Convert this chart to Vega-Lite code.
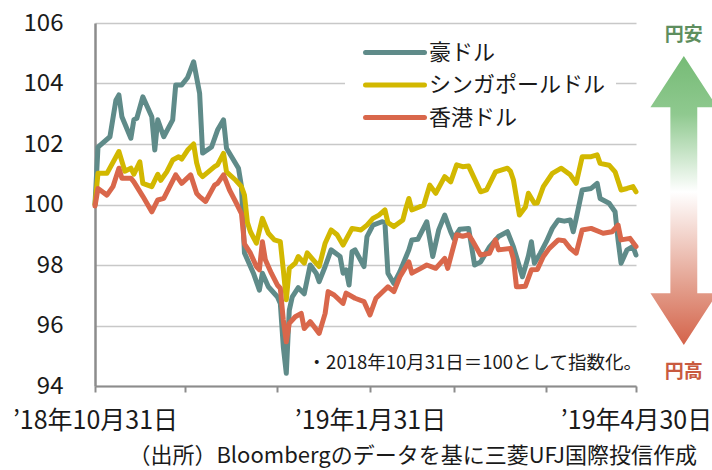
{
"$schema":"https://vega.github.io/schema/vega-lite/v6.json",
"width":541,"height":363,
"autosize":{"type":"none"},
"padding":{"left":95,"top":23,"right":76,"bottom":84},
"background":"white",
"config":{"view":{"stroke":null},"font":"Noto Sans CJK JP"},
"title":{"text":"（出所）Bloombergのデータを基に三菱UFJ国際投信作成","orient":"bottom","anchor":"end","frame":"group","fontSize":22,"fontWeight":"normal","color":"#1a1a1a","font":"Noto Sans CJK JP","offset":13,"dx":61},
"datasets":{
"series":[
{"d":"2018/10/31","s":"豪ドル","v":100.0},{"d":"2018/11/01","s":"豪ドル","v":101.9},{"d":"2018/11/05","s":"豪ドル","v":102.24},{"d":"2018/11/07","s":"豪ドル","v":103.45},{"d":"2018/11/08","s":"豪ドル","v":103.62},{"d":"2018/11/09","s":"豪ドル","v":102.9},{"d":"2018/11/12","s":"豪ドル","v":102.19},{"d":"2018/11/13","s":"豪ドル","v":102.8},{"d":"2018/11/14","s":"豪ドル","v":102.85},{"d":"2018/11/16","s":"豪ドル","v":103.56},{"d":"2018/11/19","s":"豪ドル","v":102.9},{"d":"2018/11/20","s":"豪ドル","v":101.8},{"d":"2018/11/21","s":"豪ドル","v":102.8},{"d":"2018/11/23","s":"豪ドル","v":102.24},{"d":"2018/11/26","s":"豪ドル","v":102.8},{"d":"2018/11/27","s":"豪ドル","v":103.95},{"d":"2018/11/29","s":"豪ドル","v":103.95},{"d":"2018/12/01","s":"豪ドル","v":104.2},{"d":"2018/12/03","s":"豪ドル","v":104.72},{"d":"2018/12/05","s":"豪ドル","v":103.68},{"d":"2018/12/06","s":"豪ドル","v":101.7},{"d":"2018/12/09","s":"豪ドル","v":101.9},{"d":"2018/12/11","s":"豪ドル","v":102.46},{"d":"2018/12/13","s":"豪ドル","v":102.8},{"d":"2018/12/14","s":"豪ドル","v":101.86},{"d":"2018/12/16","s":"豪ドル","v":101.53},{"d":"2018/12/18","s":"豪ドル","v":101.2},{"d":"2018/12/19","s":"豪ドル","v":100.6},{"d":"2018/12/20","s":"豪ドル","v":98.4},{"d":"2018/12/23","s":"豪ドル","v":97.73},{"d":"2018/12/25","s":"豪ドル","v":97.17},{"d":"2018/12/26","s":"豪ドル","v":97.73},{"d":"2018/12/28","s":"豪ドル","v":97.28},{"d":"2018/12/31","s":"豪ドル","v":96.95},{"d":"2019/01/01","s":"豪ドル","v":96.73},{"d":"2019/01/02","s":"豪ドル","v":95.3},{"d":"2019/01/03","s":"豪ドル","v":94.42},{"d":"2019/01/04","s":"豪ドル","v":96.5},{"d":"2019/01/05","s":"豪ドル","v":96.95},{"d":"2019/01/07","s":"豪ドル","v":97.25},{"d":"2019/01/09","s":"豪ドル","v":97.05},{"d":"2019/01/11","s":"豪ドル","v":98.0},{"d":"2019/01/13","s":"豪ドル","v":97.73},{"d":"2019/01/14","s":"豪ドル","v":97.45},{"d":"2019/01/16","s":"豪ドル","v":97.95},{"d":"2019/01/18","s":"豪ドル","v":98.5},{"d":"2019/01/21","s":"豪ドル","v":98.28},{"d":"2019/01/22","s":"豪ドル","v":97.73},{"d":"2019/01/23","s":"豪ドル","v":97.84},{"d":"2019/01/24","s":"豪ドル","v":97.34},{"d":"2019/01/25","s":"豪ドル","v":98.44},{"d":"2019/01/26","s":"豪ドル","v":98.5},{"d":"2019/01/29","s":"豪ドル","v":97.95},{"d":"2019/01/30","s":"豪ドル","v":98.94},{"d":"2019/02/01","s":"豪ドル","v":99.32},{"d":"2019/02/04","s":"豪ドル","v":99.43},{"d":"2019/02/05","s":"豪ドル","v":99.4},{"d":"2019/02/06","s":"豪ドル","v":97.73},{"d":"2019/02/08","s":"豪ドル","v":97.39},{"d":"2019/02/10","s":"豪ドル","v":97.78},{"d":"2019/02/13","s":"豪ドル","v":98.5},{"d":"2019/02/14","s":"豪ドル","v":98.83},{"d":"2019/02/16","s":"豪ドル","v":98.85},{"d":"2019/02/19","s":"豪ドル","v":99.43},{"d":"2019/02/21","s":"豪ドル","v":98.28},{"d":"2019/02/23","s":"豪ドル","v":99.16},{"d":"2019/02/25","s":"豪ドル","v":99.65},{"d":"2019/02/27","s":"豪ドル","v":99.1},{"d":"2019/02/28","s":"豪ドル","v":98.88},{"d":"2019/03/02","s":"豪ドル","v":99.18},{"d":"2019/03/05","s":"豪ドル","v":99.21},{"d":"2019/03/07","s":"豪ドル","v":98.0},{"d":"2019/03/09","s":"豪ドル","v":98.1},{"d":"2019/03/12","s":"豪ドル","v":98.6},{"d":"2019/03/15","s":"豪ドル","v":98.94},{"d":"2019/03/18","s":"豪ドル","v":99.1},{"d":"2019/03/20","s":"豪ドル","v":98.6},{"d":"2019/03/23","s":"豪ドル","v":97.61},{"d":"2019/03/24","s":"豪ドル","v":97.95},{"d":"2019/03/25","s":"豪ドル","v":98.3},{"d":"2019/03/26","s":"豪ドル","v":98.77},{"d":"2019/03/27","s":"豪ドル","v":98.06},{"d":"2019/03/29","s":"豪ドル","v":98.39},{"d":"2019/03/31","s":"豪ドル","v":98.77},{"d":"2019/04/02","s":"豪ドル","v":99.21},{"d":"2019/04/04","s":"豪ドル","v":99.49},{"d":"2019/04/06","s":"豪ドル","v":99.45},{"d":"2019/04/08","s":"豪ドル","v":99.49},{"d":"2019/04/09","s":"豪ドル","v":99.1},{"d":"2019/04/10","s":"豪ドル","v":99.54},{"d":"2019/04/12","s":"豪ドル","v":100.48},{"d":"2019/04/15","s":"豪ドル","v":100.53},{"d":"2019/04/17","s":"豪ドル","v":100.7},{"d":"2019/04/18","s":"豪ドル","v":100.2},{"d":"2019/04/21","s":"豪ドル","v":100.04},{"d":"2019/04/23","s":"豪ドル","v":99.76},{"d":"2019/04/24","s":"豪ドル","v":98.83},{"d":"2019/04/25","s":"豪ドル","v":98.06},{"d":"2019/04/27","s":"豪ドル","v":98.5},{"d":"2019/04/29","s":"豪ドル","v":98.61},{"d":"2019/04/30","s":"豪ドル","v":98.33},
{"d":"2018/10/31","s":"シンガポールドル","v":100.0},{"d":"2018/11/01","s":"シンガポールドル","v":101.03},{"d":"2018/11/04","s":"シンガポールドル","v":101.03},{"d":"2018/11/08","s":"シンガポールドル","v":101.75},{"d":"2018/11/10","s":"シンガポールドル","v":101.1},{"d":"2018/11/12","s":"シンガポールドル","v":101.2},{"d":"2018/11/13","s":"シンガポールドル","v":101.0},{"d":"2018/11/15","s":"シンガポールドル","v":101.41},{"d":"2018/11/16","s":"シンガポールドル","v":100.7},{"d":"2018/11/19","s":"シンガポールドル","v":100.59},{"d":"2018/11/21","s":"シンガポールドル","v":101.0},{"d":"2018/11/22","s":"シンガポールドル","v":100.8},{"d":"2018/11/24","s":"シンガポールドル","v":101.08},{"d":"2018/11/26","s":"シンガポールドル","v":101.47},{"d":"2018/11/28","s":"シンガポールドル","v":101.58},{"d":"2018/11/29","s":"シンガポールドル","v":101.5},{"d":"2018/12/01","s":"シンガポールドル","v":101.8},{"d":"2018/12/03","s":"シンガポールドル","v":102.0},{"d":"2018/12/04","s":"シンガポールドル","v":101.38},{"d":"2018/12/05","s":"シンガポールドル","v":101.03},{"d":"2018/12/06","s":"シンガポールドル","v":100.92},{"d":"2018/12/10","s":"シンガポールドル","v":101.25},{"d":"2018/12/11","s":"シンガポールドル","v":101.31},{"d":"2018/12/13","s":"シンガポールドル","v":101.69},{"d":"2018/12/14","s":"シンガポールドル","v":101.08},{"d":"2018/12/17","s":"シンガポールドル","v":100.81},{"d":"2018/12/19","s":"シンガポールドル","v":100.59},{"d":"2018/12/20","s":"シンガポールドル","v":100.31},{"d":"2018/12/21","s":"シンガポールドル","v":99.4},{"d":"2018/12/22","s":"シンガポールドル","v":99.1},{"d":"2018/12/24","s":"シンガポールドル","v":98.72},{"d":"2018/12/26","s":"シンガポールドル","v":99.54},{"d":"2018/12/28","s":"シンガポールドル","v":99.05},{"d":"2018/12/30","s":"シンガポールドル","v":98.83},{"d":"2019/01/01","s":"シンガポールドル","v":98.77},{"d":"2019/01/02","s":"シンガポールドル","v":97.84},{"d":"2019/01/03","s":"シンガポールドル","v":96.85},{"d":"2019/01/04","s":"シンガポールドル","v":97.89},{"d":"2019/01/06","s":"シンガポールドル","v":98.06},{"d":"2019/01/07","s":"シンガポールドル","v":98.28},{"d":"2019/01/09","s":"シンガポールドル","v":98.06},{"d":"2019/01/10","s":"シンガポールドル","v":98.4},{"d":"2019/01/12","s":"シンガポールドル","v":98.17},{"d":"2019/01/14","s":"シンガポールドル","v":97.95},{"d":"2019/01/16","s":"シンガポールドル","v":98.72},{"d":"2019/01/18","s":"シンガポールドル","v":99.16},{"d":"2019/01/20","s":"シンガポールドル","v":99.0},{"d":"2019/01/22","s":"シンガポールドル","v":98.66},{"d":"2019/01/25","s":"シンガポールドル","v":99.21},{"d":"2019/01/28","s":"シンガポールドル","v":99.16},{"d":"2019/01/30","s":"シンガポールドル","v":99.32},{"d":"2019/02/01","s":"シンガポールドル","v":99.54},{"d":"2019/02/03","s":"シンガポールドル","v":99.65},{"d":"2019/02/05","s":"シンガポールドル","v":99.82},{"d":"2019/02/06","s":"シンガポールドル","v":99.4},{"d":"2019/02/08","s":"シンガポールドル","v":99.27},{"d":"2019/02/11","s":"シンガポールドル","v":99.49},{"d":"2019/02/12","s":"シンガポールドル","v":99.87},{"d":"2019/02/13","s":"シンガポールドル","v":100.2},{"d":"2019/02/14","s":"シンガポールドル","v":99.82},{"d":"2019/02/18","s":"シンガポールドル","v":99.98},{"d":"2019/02/20","s":"シンガポールドル","v":100.64},{"d":"2019/02/22","s":"シンガポールドル","v":100.37},{"d":"2019/02/25","s":"シンガポールドル","v":100.92},{"d":"2019/02/27","s":"シンガポールドル","v":100.75},{"d":"2019/03/01","s":"シンガポールドル","v":101.31},{"d":"2019/03/03","s":"シンガポールドル","v":101.25},{"d":"2019/03/05","s":"シンガポールドル","v":101.27},{"d":"2019/03/09","s":"シンガポールドル","v":100.42},{"d":"2019/03/11","s":"シンガポールドル","v":100.48},{"d":"2019/03/14","s":"シンガポールドル","v":101.08},{"d":"2019/03/18","s":"シンガポールドル","v":101.2},{"d":"2019/03/19","s":"シンガポールドル","v":101.1},{"d":"2019/03/20","s":"シンガポールドル","v":100.81},{"d":"2019/03/22","s":"シンガポールドル","v":99.65},{"d":"2019/03/24","s":"シンガポールドル","v":99.92},{"d":"2019/03/25","s":"シンガポールドル","v":100.37},{"d":"2019/03/27","s":"シンガポールドル","v":100.04},{"d":"2019/03/28","s":"シンガポールドル","v":100.05},{"d":"2019/03/30","s":"シンガポールドル","v":100.59},{"d":"2019/04/02","s":"シンガポールドル","v":101.03},{"d":"2019/04/05","s":"シンガポールドル","v":101.2},{"d":"2019/04/08","s":"シンガポールドル","v":100.98},{"d":"2019/04/10","s":"シンガポールドル","v":100.7},{"d":"2019/04/12","s":"シンガポールドル","v":101.58},{"d":"2019/04/15","s":"シンガポールドル","v":101.58},{"d":"2019/04/17","s":"シンガポールドル","v":101.64},{"d":"2019/04/18","s":"シンガポールドル","v":101.36},{"d":"2019/04/21","s":"シンガポールドル","v":101.3},{"d":"2019/04/23","s":"シンガポールドル","v":101.08},{"d":"2019/04/25","s":"シンガポールドル","v":100.48},{"d":"2019/04/27","s":"シンガポールドル","v":100.53},{"d":"2019/04/29","s":"シンガポールドル","v":100.59},{"d":"2019/04/30","s":"シンガポールドル","v":100.42},
{"d":"2018/10/31","s":"香港ドル","v":99.95},{"d":"2018/11/01","s":"香港ドル","v":100.53},{"d":"2018/11/04","s":"香港ドル","v":100.31},{"d":"2018/11/06","s":"香港ドル","v":100.59},{"d":"2018/11/08","s":"香港ドル","v":101.2},{"d":"2018/11/09","s":"香港ドル","v":100.87},{"d":"2018/11/12","s":"香港ドル","v":100.87},{"d":"2018/11/13","s":"香港ドル","v":100.75},{"d":"2018/11/16","s":"香港ドル","v":100.27},{"d":"2018/11/19","s":"香港ドル","v":99.76},{"d":"2018/11/21","s":"香港ドル","v":100.15},{"d":"2018/11/23","s":"香港ドル","v":100.2},{"d":"2018/11/27","s":"香港ドル","v":100.98},{"d":"2018/11/29","s":"香港ドル","v":100.7},{"d":"2018/12/02","s":"香港ドル","v":100.98},{"d":"2018/12/04","s":"香港ドル","v":100.37},{"d":"2018/12/05","s":"香港ドル","v":100.26},{"d":"2018/12/07","s":"香港ドル","v":100.1},{"d":"2018/12/10","s":"香港ドル","v":100.64},{"d":"2018/12/11","s":"香港ドル","v":100.7},{"d":"2018/12/13","s":"香港ドル","v":100.98},{"d":"2018/12/15","s":"香港ドル","v":100.48},{"d":"2018/12/17","s":"香港ドル","v":100.1},{"d":"2018/12/19","s":"香港ドル","v":99.7},{"d":"2018/12/20","s":"香港ドル","v":98.7},{"d":"2018/12/22","s":"香港ドル","v":98.39},{"d":"2018/12/24","s":"香港ドル","v":97.95},{"d":"2018/12/25","s":"香港ドル","v":97.84},{"d":"2018/12/26","s":"香港ドル","v":98.77},{"d":"2018/12/27","s":"香港ドル","v":98.17},{"d":"2018/12/29","s":"香港ドル","v":97.73},{"d":"2018/12/31","s":"香港ドル","v":97.34},{"d":"2019/01/01","s":"香港ドル","v":97.23},{"d":"2019/01/02","s":"香港ドル","v":96.18},{"d":"2019/01/03","s":"香港ドル","v":95.46},{"d":"2019/01/04","s":"香港ドル","v":96.07},{"d":"2019/01/06","s":"香港ドル","v":96.29},{"d":"2019/01/08","s":"香港ドル","v":96.4},{"d":"2019/01/09","s":"香港ドル","v":95.9},{"d":"2019/01/11","s":"香港ドル","v":96.13},{"d":"2019/01/14","s":"香港ドル","v":95.74},{"d":"2019/01/16","s":"香港ドル","v":96.4},{"d":"2019/01/17","s":"香港ドル","v":97.12},{"d":"2019/01/19","s":"香港ドル","v":97.01},{"d":"2019/01/22","s":"香港ドル","v":96.73},{"d":"2019/01/23","s":"香港ドル","v":97.07},{"d":"2019/01/26","s":"香港ドル","v":96.9},{"d":"2019/01/29","s":"香港ドル","v":96.79},{"d":"2019/01/31","s":"香港ドル","v":96.35},{"d":"2019/02/02","s":"香港ドル","v":96.9},{"d":"2019/02/06","s":"香港ドル","v":97.28},{"d":"2019/02/08","s":"香港ドル","v":97.12},{"d":"2019/02/10","s":"香港ドル","v":97.61},{"d":"2019/02/13","s":"香港ドル","v":98.1},{"d":"2019/02/14","s":"香港ドル","v":97.73},{"d":"2019/02/17","s":"香港ドル","v":97.89},{"d":"2019/02/19","s":"香港ドル","v":98.0},{"d":"2019/02/22","s":"香港ドル","v":97.89},{"d":"2019/02/25","s":"香港ドル","v":98.22},{"d":"2019/02/26","s":"香港ドル","v":97.89},{"d":"2019/03/01","s":"香港ドル","v":99.0},{"d":"2019/03/03","s":"香港ドル","v":98.95},{"d":"2019/03/05","s":"香港ドル","v":99.0},{"d":"2019/03/06","s":"香港ドル","v":98.85},{"d":"2019/03/09","s":"香港ドル","v":98.33},{"d":"2019/03/12","s":"香港ドル","v":98.39},{"d":"2019/03/14","s":"香港ドル","v":98.83},{"d":"2019/03/15","s":"香港ドル","v":98.5},{"d":"2019/03/19","s":"香港ドル","v":98.55},{"d":"2019/03/20","s":"香港ドル","v":98.2},{"d":"2019/03/21","s":"香港ドル","v":97.28},{"d":"2019/03/22","s":"香港ドル","v":97.28},{"d":"2019/03/24","s":"香港ドル","v":97.3},{"d":"2019/03/26","s":"香港ドル","v":97.84},{"d":"2019/03/28","s":"香港ドル","v":97.85},{"d":"2019/03/30","s":"香港ドル","v":98.28},{"d":"2019/04/01","s":"香港ドル","v":98.55},{"d":"2019/04/04","s":"香港ドル","v":98.83},{"d":"2019/04/06","s":"香港ドル","v":98.8},{"d":"2019/04/08","s":"香港ドル","v":98.55},{"d":"2019/04/10","s":"香港ドル","v":98.39},{"d":"2019/04/12","s":"香港ドル","v":99.16},{"d":"2019/04/15","s":"香港ドル","v":99.21},{"d":"2019/04/19","s":"香港ドル","v":99.05},{"d":"2019/04/22","s":"香港ドル","v":99.1},{"d":"2019/04/24","s":"香港ドル","v":99.32},{"d":"2019/04/25","s":"香港ドル","v":98.83},{"d":"2019/04/28","s":"香港ドル","v":98.88},{"d":"2019/04/30","s":"香港ドル","v":98.61}
],
"note":[{"d":"2019/04/30","v":94.76,"t":"・2018年10月31日＝100として指数化。"}],
"arrow":[{"d":"2019/05/16","v":100.13}],
"arrowLabels":[{"d":"2019/05/16","v":105.6,"t":"円安","c":"up"},{"d":"2019/05/16","v":94.46,"t":"円高","c":"down"}]
},
"layer":[
{"data":{"name":"series"},
 "mark":{"type":"line","strokeWidth":5,"strokeJoin":"round","strokeCap":"round"},
 "encoding":{
  "x":{"field":"d","type":"temporal","scale":{"domain":[{"year":2018,"month":10,"date":31},{"year":2019,"month":4,"date":30}]},
   "axis":{"title":null,"grid":false,"values":[{"year":2018,"month":10,"date":31},{"year":2018,"month":11,"date":30},{"year":2018,"month":12,"date":31},{"year":2019,"month":1,"date":31},{"year":2019,"month":2,"date":28},{"year":2019,"month":3,"date":31},{"year":2019,"month":4,"date":30}],
    "labelExpr":"indexof([9,0,3], month(datum.value)) >= 0 ? '’' + timeFormat(datum.value, '%y') + '年' + (month(datum.value) + 1) + '月' + date(datum.value) + '日' : ''",
    "labelFlush":false,"labelOverlap":false,"labelFontSize":25,"labelColor":"#1a1a1a","labelFont":"Noto Sans CJK JP","labelPadding":16,
    "domainColor":"#8c8c8c","domainWidth":2,"tickColor":"#8c8c8c","tickWidth":2,"tickSize":6}},
  "y":{"field":"v","type":"quantitative","scale":{"domain":[94,106]},
   "axis":{"title":null,"values":[94,96,98,100,102,104,106],"grid":true,"gridColor":"#c8c8c8","gridWidth":1.5,"domainColor":"#8c8c8c","domainWidth":2.5,"ticks":false,"tickSize":0,"labelFontSize":24,"labelColor":"#1a1a1a","labelFont":"Noto Sans CJK JP","labelPadding":32}},
  "color":{"field":"s","type":"nominal","scale":{"domain":["豪ドル","シンガポールドル","香港ドル"],"range":["#5f8b89","#d2b800","#d9674b"]},
   "legend":{"orient":"none","legendX":250,"legendY":6,"title":null,"fillColor":"white","padding":10,"symbolType":"M-0.27,0L5.09,0","symbolSize":484,"symbolStrokeWidth":5,"labelFontSize":22,"labelOffset":47,"rowPadding":7.5,"labelColor":"#1a1a1a","labelFont":"Noto Sans CJK JP","labelLimit":300,"direction":"vertical",
    "encode":{"symbols":{"update":{"strokeCap":{"value":"round"}}}}}}
 }},
{"data":{"name":"note"},
 "mark":{"type":"text","align":"right","baseline":"middle","fontSize":18.5,"dx":6,"color":"#1a1a1a","font":"Noto Sans CJK JP"},
 "encoding":{
  "x":{"field":"d","type":"temporal","scale":{"domain":[{"year":2018,"month":10,"date":31},{"year":2019,"month":4,"date":30}]}},
  "y":{"field":"v","type":"quantitative","scale":{"domain":[94,106]}},
  "text":{"field":"t"}}},
{"data":{"name":"arrow"},
 "mark":{"type":"point","filled":true,"clip":false,"opacity":1,"strokeWidth":0,"size":83521,
  "shape":"M0,-1L0.231,-0.645L0.093,-0.645L0.093,0.642L0.231,0.642L0,1L-0.231,0.642L-0.093,0.642L-0.093,-0.645L-0.231,-0.645Z",
  "fill":{"gradient":"linear","x1":0,"y1":0,"x2":0,"y2":1,"stops":[{"offset":0,"color":"#76bb76"},{"offset":0.2,"color":"#8fc98f"},{"offset":0.47,"color":"#ffffff"},{"offset":0.8,"color":"#e39e8c"},{"offset":1,"color":"#d4634a"}]}},
 "encoding":{
  "x":{"field":"d","type":"temporal","scale":{"domain":[{"year":2018,"month":10,"date":31},{"year":2019,"month":4,"date":30}]}},
  "y":{"field":"v","type":"quantitative","scale":{"domain":[94,106]}}}},
{"data":{"name":"arrowLabels"},
 "mark":{"type":"text","align":"center","baseline":"middle","fontSize":19,"fontWeight":"bold","font":"Noto Sans CJK JP"},
 "encoding":{
  "x":{"field":"d","type":"temporal","scale":{"domain":[{"year":2018,"month":10,"date":31},{"year":2019,"month":4,"date":30}]}},
  "y":{"field":"v","type":"quantitative","scale":{"domain":[94,106]}},
  "text":{"field":"t"},
  "color":{"field":"c","type":"nominal","scale":{"domain":["up","down"],"range":["#5e8e5e","#c95a3f"]},"legend":null}}}
],
"resolve":{"scale":{"color":"independent"}}
}
